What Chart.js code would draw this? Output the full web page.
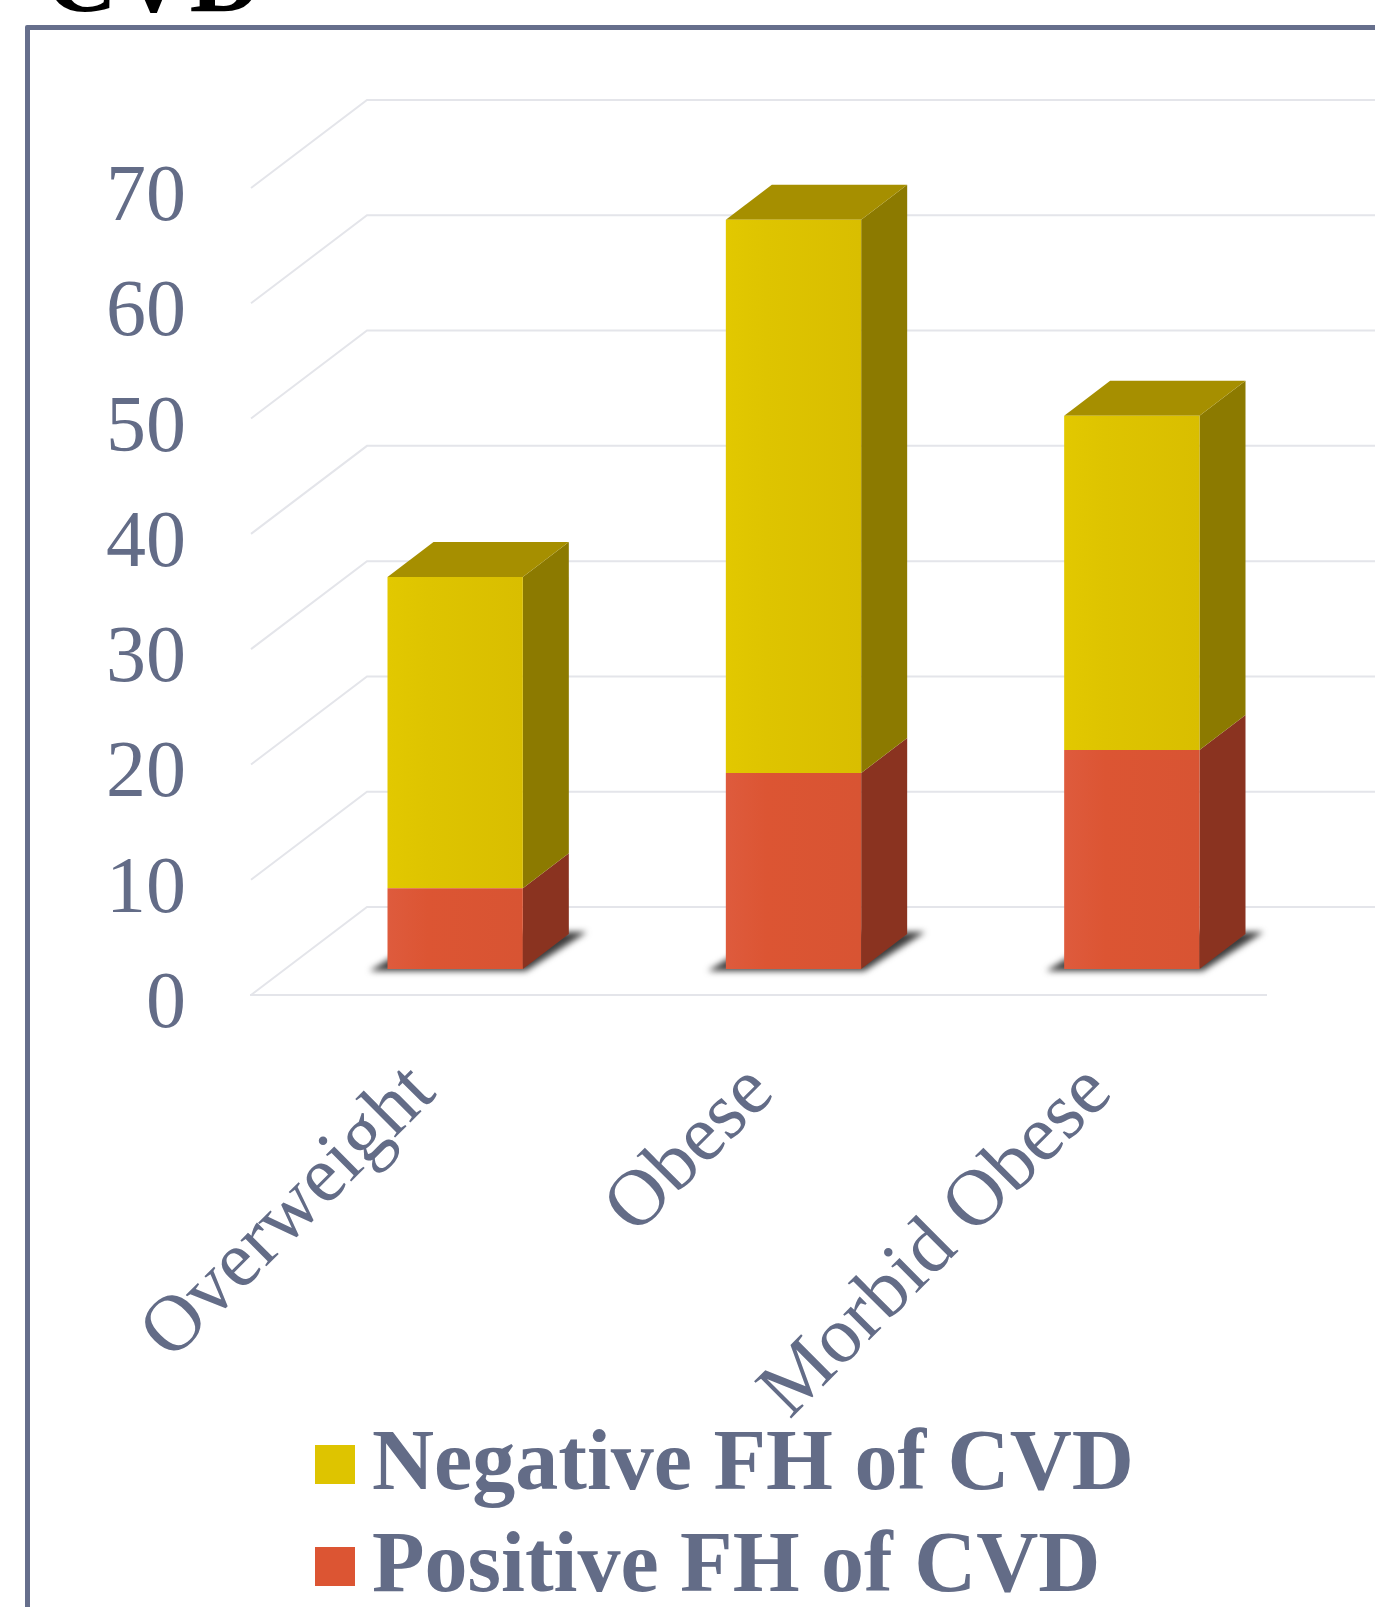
<!DOCTYPE html>
<html>
<head>
<meta charset="utf-8">
<title>FH of CVD by weight group</title>
<script src="https://cdn.jsdelivr.net/npm/chart.js@4"></script>
<style>
  html, body { margin: 0; padding: 0; background: #fff; overflow: hidden; }
  #wrap { position: relative; width: 1375px; height: 1607px; overflow: hidden; }
  #myChart { position: absolute; left: 0; top: 0; }
  #frame { position: absolute; left: 25px; top: 25px; width: 1500px; height: 1800px; border: 5px solid #666f8c; border-radius: 2px; }
  #heading { position: absolute; left: 45px; top: -72px; font: bold 100px/1 "Liberation Serif", serif; color: #000; }
  #legend { position: absolute; left: 315px; top: 1409px; font: bold 86px/102px "Liberation Serif", serif; color: #636c87; }
  #legend div { display: flex; align-items: center; height: 102px; white-space: nowrap; }
  #legend i { display: block; position: relative; top: 4px; width: 40px; height: 39px; margin-right: 17px; }
</style>
</head>
<body>
<div id="wrap">
  <div id="frame"></div>
  <div id="heading">CVD</div>
  <canvas id="myChart" width="1375" height="1607"></canvas>
  <div id="legend"></div>
</div>
<script>
const categories = ['Overweight', 'Obese', 'Morbid Obese'];
const positiveFH = [7, 17, 19];
const negativeFH = [27, 48, 29];

const textColor = '#636c87';
const gridColor = '#e4e5ea';
const serif = '"Liberation Serif", serif';

// the fake 3d: how far the walls go back, and where the bars sit on the floor
const wallDepth = { x: 116, y: 88 };
const barShift = { x: 35, y: 26 };
const barDepth = { x: 46, y: 35 };

function poly(ctx, points, fill) {
  ctx.beginPath();
  points.forEach((p, i) => i ? ctx.lineTo(p[0], p[1]) : ctx.moveTo(p[0], p[1]));
  ctx.closePath();
  ctx.fillStyle = fill;
  ctx.fill();
}

// front faces are slightly lighter on the left, like the office bevel
function frontFace(edge, mid, flat) {
  return function (c) {
    const chart = c.chart;
    if (!chart.chartArea || c.dataIndex === undefined) return flat;
    const x = chart.scales.x.getPixelForValue(c.dataIndex);
    if (!isFinite(x)) return flat;
    const g = chart.ctx.createLinearGradient(x - 68, 0, x + 68, 0);
    g.addColorStop(0, edge);
    g.addColorStop(0.3, flat);
    g.addColorStop(1, mid);
    return g;
  };
}

const walls = {
  id: 'walls',
  beforeDatasetsDraw(chart) {
    const { ctx, chartArea, scales } = chart;
    ctx.save();
    ctx.strokeStyle = gridColor;
    ctx.lineWidth = 2;
    scales.y.ticks.forEach(tick => {
      const y = scales.y.getPixelForValue(tick.value);
      ctx.beginPath();
      ctx.moveTo(chartArea.left, y);
      ctx.lineTo(chartArea.left + wallDepth.x, y - wallDepth.y);
      ctx.lineTo(chartArea.right + wallDepth.x, y - wallDepth.y);
      ctx.stroke();
    });
    ctx.restore();
  }
};

const bars3d = {
  id: 'bars3d',
  beforeDatasetsDraw(chart) {
    const { ctx } = chart;
    ctx.save();
    ctx.translate(barShift.x, -barShift.y);

    // floor shadows
    chart.getDatasetMeta(0).data.forEach(bar => {
      const l = bar.x - bar.width / 2, r = bar.x + bar.width / 2, b = bar.base;
      ctx.save();
      ctx.filter = 'blur(3px)';
      poly(ctx, [[l - 18, b + 2], [r + 3, b + 2], [r + 64, b - 37], [l + 46, b - 37]], '#3c3c3c');
      ctx.restore();
    });

    chart.data.datasets.forEach((ds, i) => {
      chart.getDatasetMeta(i).data.forEach(bar => {
        const l = bar.x - bar.width / 2, r = bar.x + bar.width / 2;
        poly(ctx, [[r, bar.y], [r + barDepth.x, bar.y - barDepth.y], [r + barDepth.x, bar.base - barDepth.y], [r, bar.base]], ds.sideColor);
        if (i === chart.data.datasets.length - 1) {
          poly(ctx, [[l, bar.y], [l + barDepth.x, bar.y - barDepth.y], [r + barDepth.x, bar.y - barDepth.y], [r, bar.y]], ds.topColor);
        }
      });
    });
  },
  afterDatasetsDraw(chart) {
    chart.ctx.restore();
  }
};

const myChart = new Chart(document.getElementById('myChart').getContext('2d'), {
  type: 'bar',
  data: {
    labels: categories,
    datasets: [
      { label: 'Positive FH of CVD', data: positiveFH, swatch: '#dc5533', backgroundColor: frontFace('#de5b3d', '#d85433', '#dc5533'), sideColor: '#8a3320', clip: false },
      { label: 'Negative FH of CVD', data: negativeFH, swatch: '#dec400', backgroundColor: frontFace('#e2c800', '#d9be00', '#dec400'), sideColor: '#8c7a00', topColor: '#a68f00', clip: false }
    ]
  },
  options: {
    responsive: false,
    animation: false,
    layout: { padding: { top: 188, right: 109 } },
    datasets: { bar: { categoryPercentage: 1, barPercentage: 0.4 } },
    plugins: { legend: { display: false }, tooltip: { enabled: false } },
    scales: {
      x: {
        stacked: true,
        afterFit(scale) { scale.height = 612; },
        grid: { display: false },
        border: { display: true, color: gridColor, width: 2 },
        ticks: {
          color: textColor,
          font: { family: serif, size: 80 },
          minRotation: 45,
          maxRotation: 45,
          padding: 43,
          labelOffset: 3
        }
      },
      y: {
        stacked: true,
        min: 0,
        max: 70,
        afterFit(scale) { scale.width = 251; },
        grid: { display: false },
        border: { display: false },
        ticks: {
          stepSize: 10,
          color: textColor,
          font: { family: serif, size: 80 },
          padding: 57,
          labelOffset: 11
        }
      }
    }
  },
  plugins: [walls, bars3d]
});

// legend is html so the gap to the swatch is right, top row is the top of the stack
const legendEl = document.getElementById('legend');
[...myChart.data.datasets].reverse().forEach(ds => {
  const row = document.createElement('div');
  const swatch = document.createElement('i');
  swatch.style.background = ds.swatch;
  row.appendChild(swatch);
  row.appendChild(document.createTextNode(ds.label));
  legendEl.appendChild(row);
});
</script>
</body>
</html>
